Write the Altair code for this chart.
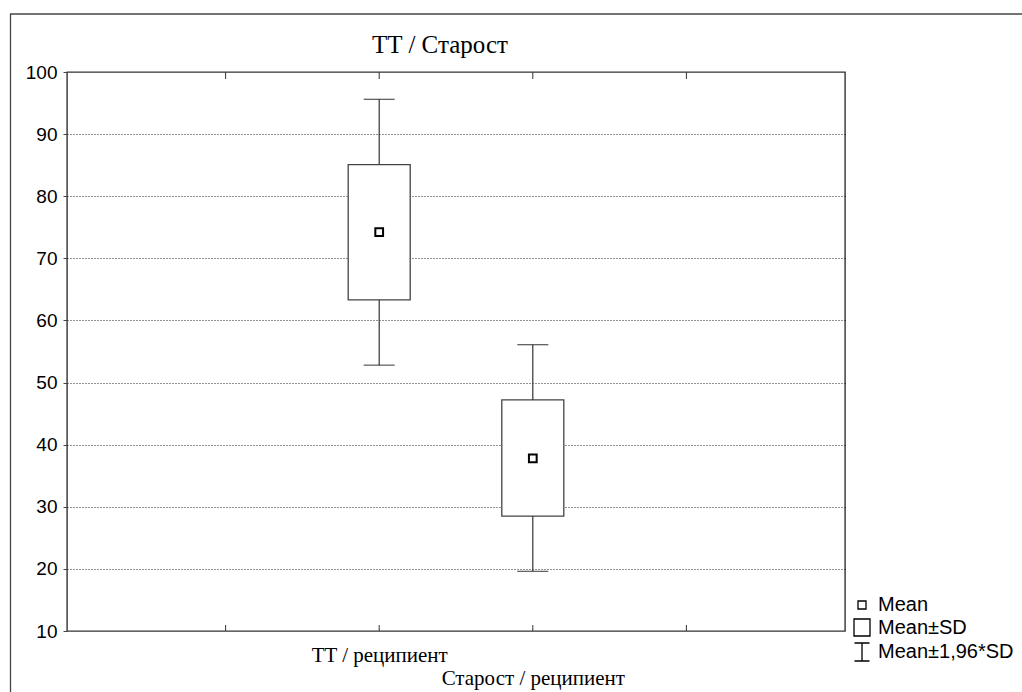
import altair as alt
import pandas as pd

# ---- data ----
title_text = "TT / Старост"
categories = ["TT / реципиент", "Старост / реципиент"]
means = [74.2, 37.8]
sd_hi = [85.1, 47.2]
sd_lo = [63.3, 28.5]
w_hi = [95.6, 56.1]
w_lo = [52.8, 19.6]
x_tick_values = [0, 1, 2, 3, 4, 5]
y_tick_values = [10, 20, 30, 40, 50, 60, 70, 80, 90, 100]
legend_labels = ["Mean", "Mean±SD", "Mean±1,96*SD"]

# categories sit on the 3rd and 4th of six evenly spaced ticks
positions = [i + 2 for i in range(len(categories))]

df = pd.DataFrame({
    "category": categories,
    "pos": positions,
    "mean": means,
    "sd_hi": sd_hi,
    "sd_lo": sd_lo,
    "w_hi": w_hi,
    "w_lo": w_lo,
})
ticks_df = pd.DataFrame({"pos": x_tick_values[1:-1]})
legend_df = pd.DataFrame({"label": legend_labels})
title_df = pd.DataFrame({"title": [title_text]})
one_row = pd.DataFrame({"a": [0]})

W, H = 778, 559

# staggered category labels (second label pushed to a second line)
parts = []
for i, (p, c) in enumerate(zip(positions, categories)):
    txt = f"'{c}'" if i % 2 == 0 else f"['', '{c}']"
    parts.append(f"datum.value == {p} ? {txt} : ")
label_expr = "".join(parts) + "''"

x_scale = alt.Scale(domain=[x_tick_values[0], x_tick_values[-1]], nice=False, zero=False)
x_axis = alt.Axis(
    values=positions, ticks=False, domain=False, grid=False, title=None,
    labelExpr=label_expr, labelFont="Liberation Serif", labelFontSize=21,
    labelColor="black", labelBaseline="top", labelLineHeight=23,
    labelPadding=13, labelOverlap=False, labelBound=False, labelFlush=False,
    labelLimit=500,
)
x_enc = alt.X("pos:Q", scale=x_scale, axis=x_axis)

y_scale = alt.Scale(domain=[y_tick_values[0], y_tick_values[-1]], nice=False, zero=False)
edge_test = f"datum.value == {y_tick_values[0]} || datum.value == {y_tick_values[-1]}"
y_axis = alt.Axis(
    values=y_tick_values, title=None, domain=False, grid=True,
    gridColor="black", gridDash=[1, 2], gridWidth=1,
    gridOpacity=alt.condition(edge_test, alt.value(0), alt.value(0.85)),
    tickSize=4, tickColor="#444", labelFont="Liberation Sans", labelFontSize=19,
    labelColor="black", labelPadding=6,
)

def Y(field):
    return alt.Y(field, scale=y_scale, axis=y_axis)

boxes = alt.Chart(df).mark_bar(size=62, fill="white", stroke="#444", strokeWidth=1.3).encode(
    x=x_enc, y=Y("sd_lo:Q"), y2="sd_hi:Q",
)
whisk_up = alt.Chart(df).mark_rule(color="#333", strokeWidth=1.2).encode(
    x=x_enc, y=Y("w_hi:Q"), y2="sd_hi:Q"
)
whisk_dn = alt.Chart(df).mark_rule(color="#333", strokeWidth=1.2).encode(
    x=x_enc, y=Y("sd_lo:Q"), y2="w_lo:Q"
)
cap_up = alt.Chart(df).mark_tick(orient="horizontal", size=31, thickness=1.3, color="#222").encode(
    x=x_enc, y=Y("w_hi:Q")
)
cap_dn = alt.Chart(df).mark_tick(orient="horizontal", size=31, thickness=1.3, color="#222").encode(
    x=x_enc, y=Y("w_lo:Q")
)
mean_pts = alt.Chart(df).mark_square(size=60, fill="white", stroke="black", strokeWidth=2, opacity=1).encode(
    x=x_enc, y=Y("mean:Q")
)

# inward x ticks on bottom and top frame
ticks_bottom = alt.Chart(ticks_df).mark_rule(color="#333", strokeWidth=1).encode(
    x=x_enc, y=alt.value(H), y2=alt.value(H - 6),
)
ticks_top = alt.Chart(ticks_df).mark_rule(color="#333", strokeWidth=1).encode(
    x=x_enc, y=alt.value(0), y2=alt.value(7),
)

# title as a text mark (so the outer frame does not push it away)
title_layer = alt.Chart(title_df).mark_text(
    font="Liberation Serif", fontSize=25, fontWeight="normal", color="black",
    align="center", baseline="alphabetic"
).encode(text="title:N", x=alt.value(373), y=alt.value(-19))

# legend via custom symbol shapes
sym_paths = [
    "M-0.4,-0.4H0.4V0.4H-0.4Z",
    "M-0.8,-0.85H0.8V0.85H-0.8Z",
    "M-0.75,-0.9H0.75M0,-0.9V0.9M-0.75,0.9H0.75",
]
legend_layer = alt.Chart(legend_df).mark_point(filled=False, opacity=0).encode(
    x=alt.value(0), y=alt.value(0),
    shape=alt.Shape(
        "label:N",
        scale=alt.Scale(domain=legend_labels, range=sym_paths),
        legend=alt.Legend(
            title=None, orient="none", legendX=W + 6, legendY=H - 37,
            symbolSize=400, symbolStrokeColor="black", symbolFillColor="white",
            symbolOpacity=1, symbolStrokeWidth=1.3, labelFont="Liberation Sans",
            labelFontSize=20, labelColor="black", labelOffset=5, rowPadding=0.5,
            padding=0, labelLimit=300,
        ),
    ),
)

# outer frame lines (top and left)
frame_top = alt.Chart(one_row).mark_rule(color="#444", strokeWidth=1.3).encode(
    x=alt.value(-57), x2=alt.value(1022 - 67), y=alt.value(-58)
)
frame_left = alt.Chart(one_row).mark_rule(color="#444", strokeWidth=1.3).encode(
    x=alt.value(-56.5), y=alt.value(-58), y2=alt.value(692 - 72)
)

chart = alt.layer(
    boxes, whisk_up, whisk_dn, cap_up, cap_dn, mean_pts,
    ticks_bottom, ticks_top, title_layer, legend_layer, frame_top, frame_left,
).properties(
    width=W, height=H,
    background="white",
    autosize=alt.AutoSizeParams(type="none"),
    padding={"left": 67, "top": 72, "right": 1022 - 67 - W, "bottom": 692 - 72 - H},
).configure_view(
    stroke="#333", strokeWidth=1.4
)

chart.save("out.html", embed_options={"renderer": "svg", "actions": False})
